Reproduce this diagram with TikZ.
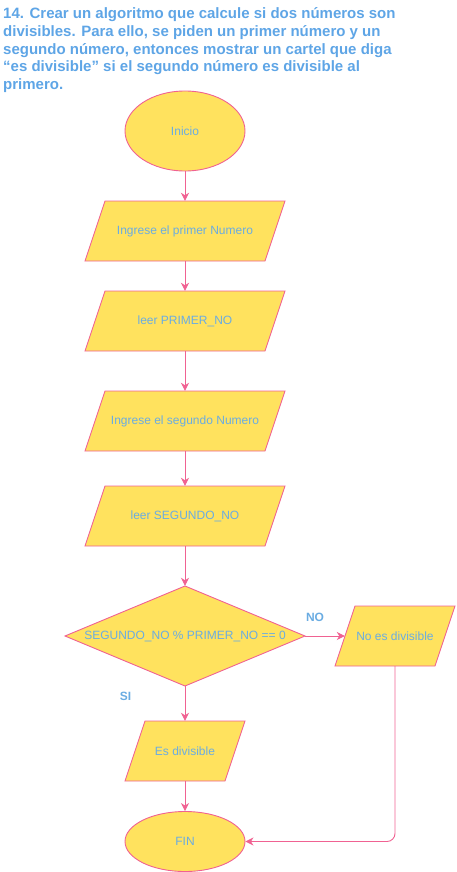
\documentclass[tikz,border=0pt]{standalone}
\usepackage{fontspec}
\setmainfont{Liberation Sans}
\usetikzlibrary{shapes.geometric,arrows.meta}
\definecolor{fillc}{RGB}{255,226,94}
\definecolor{linec}{RGB}{240,98,146}
\definecolor{textc}{RGB}{106,172,226}
\definecolor{titlec}{RGB}{94,165,230}
\tikzset{
  shapeline/.style={fill=fillc,draw=linec,line width=0.9pt},
  lbl/.style={text=textc,font=\fontsize{12}{14}\selectfont,inner sep=0pt},
  term/.style={ellipse,shapeline,lbl,minimum width=120pt},
  hold/.style={rectangle,lbl},
  edgelbl/.style={text=textc,font=\fontsize{12}{14}\selectfont\bfseries,inner sep=0pt},
  conn/.style={draw=linec,line width=0.9pt,-{Stealth[length=8pt,width=8pt,inset=2.5pt]}},
}
% name, cx, cy, width of top edge, text
\newcommand{\paranode}[5]{%
  \path[shapeline] ({#2-#4/2+10},{#3-30}) -- ({#2+#4/2+10},{#3-30})
     -- ({#2+#4/2-10},{#3+30}) -- ({#2-#4/2-10},{#3+30}) -- cycle;
  \node[hold,minimum width=#4 pt,minimum height=60pt] (#1) at (#2,#3) {#5};
}
\begin{document}
\begin{tikzpicture}[x=1pt,y=-1pt]
\useasboundingbox (0,0) rectangle (456,872);
\node[anchor=north west,inner sep=0pt,align=left,text=titlec,
      font=\fontsize{15}{17.75}\selectfont\bfseries] (title) at (3,7.5)
  {14. Crear un algoritmo que calcule si dos números son\\
   divisibles. Para ello, se piden un primer número y un\\
   segundo número, entonces mostrar un cartel que diga\\
   “es divisible” si el segundo número es divisible al\\
   primero.};
\node[term,minimum height=80pt] (inicio) at (185,131) {Inicio};
\paranode{p1}{185}{231}{180}{Ingrese el primer Numero}
\paranode{p2}{185}{321}{180}{leer PRIMER\_NO}
\paranode{p3}{185}{421}{180}{Ingrese el segundo Numero}
\paranode{p4}{185}{516}{180}{leer SEGUNDO\_NO}
\path[shapeline] (185,586) -- (305,636) -- (185,686) -- (65,636) -- cycle;
\node[hold,minimum width=240pt,minimum height=100pt] (dec) at (185,636) {SEGUNDO\_NO \% PRIMER\_NO == 0};
\paranode{nodiv}{395}{636}{100}{No es divisible}
\paranode{esdiv}{185}{751}{100}{Es divisible}
\node[term,minimum height=60pt] (fin) at (185,841.5) {FIN};
\coordinate (corner) at (395,841.5);
\draw[conn] (inicio) -- (p1);
\draw[conn] (p1) -- (p2);
\draw[conn] (p2) -- (p3);
\draw[conn] (p3) -- (p4);
\draw[conn] (p4) -- (dec);
\draw[conn] (dec.east) -- (nodiv.west);
\draw[conn] (dec.south) -- (esdiv.north);
\draw[conn] (esdiv) -- (fin);
\draw[conn,rounded corners=8pt] (nodiv.south) -- (corner) -- (fin.east);
\node[edgelbl] (nolbl) at (315,617) {NO};
\node[edgelbl] (silbl) at (125.5,696) {SI};
\end{tikzpicture}
\end{document}
